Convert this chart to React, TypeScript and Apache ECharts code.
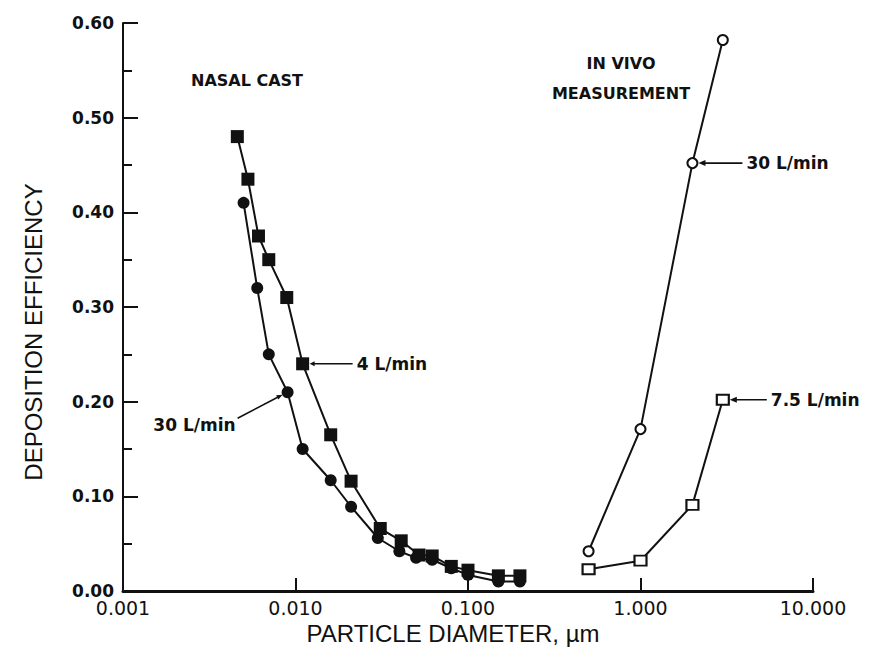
import React, { useEffect, useRef } from "react";
import * as echarts from "echarts";

// Nasal cast, 4 L/min (filled squares)
const nasal4X = [0.0046, 0.0053, 0.0061, 0.007, 0.0089, 0.011, 0.016, 0.021, 0.031, 0.041, 0.052, 0.062, 0.08, 0.1, 0.15, 0.2];
const nasal4Y = [0.48, 0.435, 0.375, 0.35, 0.31, 0.24, 0.165, 0.116, 0.066, 0.053, 0.038, 0.037, 0.026, 0.022, 0.016, 0.016];
// Nasal cast, 30 L/min (filled circles)
const nasal30X = [0.005, 0.006, 0.007, 0.009, 0.011, 0.016, 0.021, 0.03, 0.04, 0.05, 0.062, 0.08, 0.1, 0.15, 0.2];
const nasal30Y = [0.41, 0.32, 0.25, 0.21, 0.15, 0.117, 0.089, 0.056, 0.042, 0.035, 0.033, 0.024, 0.017, 0.01, 0.01];
// In vivo measurement
const vivoX = [0.5, 1, 2, 3];
const vivo30Y = [0.042, 0.171, 0.452, 0.582];
const vivo75Y = [0.023, 0.032, 0.091, 0.202];

const xTitle = "PARTICLE DIAMETER, µm";
const yTitle = "DEPOSITION EFFICIENCY";

const INK = "#111";

function pairs(xs: number[], ys: number[]) {
  return xs.map((x, i) => [x, ys[i]]);
}

function arrowHead(tipX: number, tipY: number, fromX: number, fromY: number, len = 7, half = 3) {
  const dx = tipX - fromX;
  const dy = tipY - fromY;
  const d = Math.hypot(dx, dy) || 1;
  const ux = dx / d;
  const uy = dy / d;
  const bx = tipX - ux * len;
  const by = tipY - uy * len;
  return {
    type: "polygon",
    silent: true,
    shape: {
      points: [
        [tipX, tipY],
        [bx - uy * half, by + ux * half],
        [bx + uy * half, by - ux * half],
      ],
    },
    style: { fill: INK },
  };
}

export default function App() {
  const ref = useRef<HTMLDivElement>(null);

  useEffect(() => {
    const chart = echarts.init(ref.current!, null, { renderer: "svg" });
    const lineStyle = { color: INK, width: 2 };
    chart.setOption({
      animation: false,
      backgroundColor: "#fff",
      grid: { left: 123, right: 58, top: 23, bottom: 66, containLabel: false, outerBoundsMode: "none" },
      xAxis: {
        type: "log",
        logBase: 10,
        min: 0.001,
        max: 10,
        name: xTitle,
        nameLocation: "middle",
        nameGap: 29,
        nameTextStyle: { fontFamily: "Liberation Sans", fontSize: 24, color: INK, padding: [0, 30, 0, 0] },
        axisLine: { lineStyle: { color: INK, width: 3 } },
        axisTick: { inside: true, length: 13, lineStyle: { color: INK, width: 2 } },
        minorTick: { show: false },
        splitLine: { show: false },
        axisLabel: {
          formatter: (v: number) => Number(v).toFixed(3),
          fontFamily: "DejaVu Sans",
          fontSize: 19,
          color: INK,
          margin: 7,
        },
      },
      yAxis: {
        type: "value",
        min: 0,
        max: 0.6,
        interval: 0.1,
        name: yTitle,
        nameLocation: "middle",
        nameGap: 78,
        nameTextStyle: { fontFamily: "Liberation Sans", fontSize: 24, color: INK, padding: [0, 50, 0, 0] },
        axisLine: { show: true, lineStyle: { color: INK, width: 2 } },
        axisTick: { show: true, inside: true, length: 15, lineStyle: { color: INK, width: 2 } },
        minorTick: { show: true, splitNumber: 2, length: 9, lineStyle: { color: INK, width: 2 } },
        splitLine: { show: false },
        axisLabel: {
          formatter: (v: number) => Number(v).toFixed(2),
          fontFamily: "DejaVu Sans",
          fontWeight: "bold",
          fontSize: 17,
          color: INK,
          margin: 9,
        },
      },
      series: [
        {
          name: "Nasal cast 4 L/min",
          type: "line",
          data: pairs(nasal4X, nasal4Y),
          symbol: "rect",
          symbolSize: 13,
          clip: false,
          lineStyle,
          itemStyle: { color: INK },
          z: 3,
        },
        {
          name: "Nasal cast 30 L/min",
          type: "line",
          data: pairs(nasal30X, nasal30Y),
          symbol: "circle",
          symbolSize: 12,
          clip: false,
          lineStyle,
          itemStyle: { color: INK },
          z: 2,
        },
        {
          name: "In vivo 30 L/min",
          type: "line",
          data: pairs(vivoX, vivo30Y),
          symbol: "circle",
          symbolSize: 10,
          clip: false,
          lineStyle,
          itemStyle: { color: "#fff", borderColor: INK, borderWidth: 2 },
        },
        {
          name: "In vivo 7.5 L/min",
          type: "line",
          data: pairs(vivoX, vivo75Y),
          symbol: "rect",
          symbolSize: [12, 10],
          clip: false,
          lineStyle,
          itemStyle: { color: "#fff", borderColor: INK, borderWidth: 2 },
        },
      ],
    });

    const px = (x: number, y: number) => chart.convertToPixel({ gridIndex: 0 }, [x, y]) as number[];
    const labelFont = 'bold 17px "DejaVu Sans"';
    const titleFont = 'bold 16px "DejaVu Sans"';
    const text = (t: string, x: number, y: number, align: string, font = labelFont) => ({
      type: "text",
      silent: true,
      x,
      y,
      style: { text: t, font, fill: INK, align, verticalAlign: "middle" },
    });
    const seg = (x1: number, y1: number, x2: number, y2: number) => ({
      type: "line",
      silent: true,
      shape: { x1, y1, x2, y2 },
      style: { stroke: INK, lineWidth: 1.6 },
    });

    const p4 = px(nasal4X[5], nasal4Y[5]);
    const c30 = px(nasal30X[3], nasal30Y[3]);
    const v30 = px(vivoX[2], vivo30Y[2]);
    const v75 = px(vivoX[3], vivo75Y[3]);

    const graphic: any[] = [
      text("NASAL CAST", 247, 80, "center", titleFont),
      text("IN VIVO", 621, 63, "center", titleFont),
      text("MEASUREMENT", 621, 93, "center", titleFont),
      // 4 L/min
      seg(p4[0] + 10, p4[1], p4[0] + 50, p4[1]),
      arrowHead(p4[0] + 7, p4[1], p4[0] + 20, p4[1], 5, 2.5),
      text("4 L/min", p4[0] + 54, p4[1], "left"),
      // 30 L/min nasal
      seg(c30[0] - 8, c30[1] + 4, c30[0] - 50, c30[1] + 26),
      arrowHead(c30[0] - 5, c30[1] + 2.5, c30[0] - 20, c30[1] + 10, 6, 2.5),
      text("30 L/min", c30[0] - 52, c30[1] + 33, "right"),
      // 30 L/min in vivo
      seg(v30[0] + 10, v30[1], v30[0] + 50, v30[1]),
      arrowHead(v30[0] + 6, v30[1], v30[0] + 20, v30[1]),
      text("30 L/min", v30[0] + 54, v30[1], "left"),
      // 7.5 L/min in vivo
      seg(v75[0] + 10, v75[1], v75[0] + 44, v75[1]),
      arrowHead(v75[0] + 7, v75[1], v75[0] + 20, v75[1]),
      text("7.5 L/min", v75[0] + 48, v75[1], "left"),
    ];
    chart.setOption({ graphic });

    return () => chart.dispose();
  }, []);

  return (
    <div
      ref={ref}
      style={{ position: "fixed", left: 0, top: 0, width: 871, height: 657, background: "#fff" }}
    />
  );
}
